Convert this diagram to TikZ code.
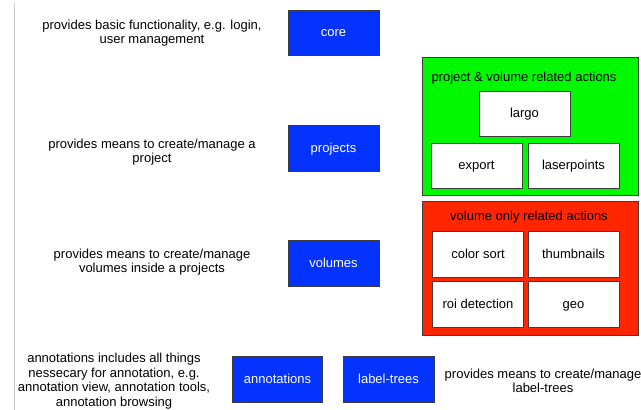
\documentclass[tikz,border=0pt]{standalone}
\usepackage{fontspec}
\setmainfont{Liberation Sans}
\definecolor{bblue}{RGB}{4,51,255}
\definecolor{bgreen}{RGB}{0,249,0}
\definecolor{bred}{RGB}{255,38,0}
\definecolor{bord}{RGB}{60,60,60}
\begin{document}
\begin{tikzpicture}[x=1pt,y=-1pt,
  every node/.style={font=\fontsize{13}{14.5}\selectfont, inner sep=0pt},
  fixed/.style={text height=9.4pt, text depth=0.6pt},
  module/.style={fixed, draw=bord, line width=0.8pt, fill=bblue, text=white, minimum width=91pt, minimum height=46pt},
  plugin/.style={fixed, draw=bord, line width=0.8pt, fill=white, minimum width=91pt, minimum height=45pt},
  group/.style={draw=bord, line width=0.8pt, minimum width=216pt},
  desc/.style={align=center}]
\useasboundingbox (0,0) rectangle (641,410);
\draw[black!20, line width=1pt] (14,3) coordinate (ltop) -- (14,410) coordinate (lbot);
% groups
\node[group, fill=bgreen, minimum height=138pt] (green) at (530,126) {};
\node[group, fill=bred, minimum height=134pt] (red) at (530,268) {};
\node[fixed] (gtitle) at (524,77) {project \& volume related actions};
\node[fixed] (rtitle) at (529,216) {volume only related actions};
% plugins
\node[plugin] (largo) at (524.5,113.5) {largo};
\node[plugin] (export) at (476.5,165.5) {export};
\node[plugin] (laser) at (573.5,165.5) {laserpoints};
\node[plugin, minimum height=46pt] (color) at (478,254) {color sort};
\node[plugin, minimum height=46pt] (thumb) at (573.5,254) {thumbnails};
\node[plugin, minimum height=46pt] (roi) at (478,304) {roi detection};
\node[plugin, minimum height=46pt] (geo) at (573.5,304) {geo};
% modules
\node[module, minimum height=45pt] (core) at (333.5,32.5) {core};
\node[module] (projects) at (333.5,148) {projects};
\node[module] (volumes) at (333.5,263) {volumes};
\node[module, minimum width=90pt] (annotations) at (277.5,379) {annotations};
\node[module] (labeltrees) at (388.5,379) {label-trees};
% descriptions
\node[desc] (dcore) at (152,33) {provides basic functionality, e.g. login,\\user management};
\node[desc] (dproj) at (152,152) {provides means to create/manage a\\project};
\node[desc] (dvol) at (152,262) {provides means to create/manage\\volumes inside a projects};
\node[desc] (dann) at (114,381) {annotations includes all things\\nessecary for annotation, e.g.\\annotation view, annotation tools,\\annotation browsing};
\node[desc] (dlab) at (543,381) {provides means to create/manage\\label-trees};
\end{tikzpicture}
\end{document}
